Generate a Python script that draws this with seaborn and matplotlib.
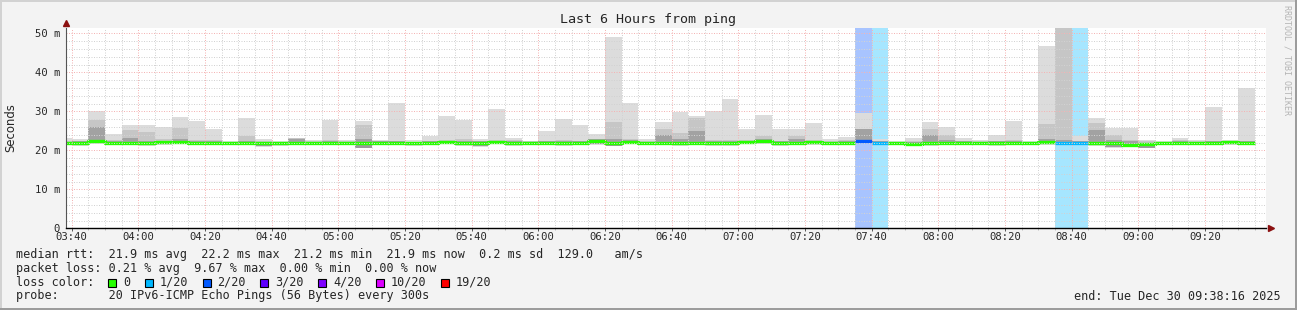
import matplotlib
matplotlib.use("Agg")
import matplotlib.pyplot as plt
import seaborn as sns
from matplotlib.patches import Rectangle
from matplotlib.ticker import FixedLocator, MultipleLocator

# ---------------- data ----------------
first_slot_minute = 215          # 03:35, slot length 5 minutes
slot_len = 5
view_start = 218.267             # 03:38:16
view_end = 578.267               # 09:38:16

rtt_max = [23.1, 22.8, 30.1, 24.2, 26.5, 26.5, 26.1, 28.5, 27.5, 25.5, 22.4, 28.3,
           22.8, 22.4, 23.1, 22.7, 27.8, 22.6, 27.6, 22.6, 32.1, 22.6, 23.8, 28.8,
           27.8, 22.9, 30.6, 23.1, 22.5, 25.0, 28.1, 26.5, 24.2, 49.0, 32.1, 22.8,
           27.3, 29.8, 28.8, 30.1, 33.2, 25.5, 29.1, 25.5, 25.5, 27.0, 22.8, 23.5,
           29.7, 22.8, 22.4, 23.2, 27.3, 26.1, 23.2, 22.6, 23.9, 27.5, 22.4, 46.8,
           55.0, 23.7, 28.3, 25.8, 25.8, 22.6, 22.3, 23.1, 22.6, 31.2, 22.6, 36.1]
rtt_mid = [22.5, 22.3, 27.8, 22.6, 25.2, 24.8, 22.8, 25.8, 22.6, 22.6, 22.2, 23.8,
           22.3, 22.2, 23.1, 22.4, 22.6, 22.4, 26.5, 22.4, 22.4, 22.2, 22.5, 22.6,
           22.9, 22.4, 22.6, 22.6, 22.3, 22.4, 22.6, 22.5, 22.6, 27.4, 22.9, 22.5,
           25.5, 24.4, 28.2, 22.7, 22.6, 22.6, 23.8, 22.4, 23.8, 22.6, 22.4, 22.7,
           25.5, 22.4, 22.2, 22.4, 25.5, 23.9, 22.4, 22.3, 22.5, 22.6, 22.2, 26.8,
           55.0, 22.5, 26.9, 23.9, 22.6, 22.3, 22.2, 22.6, 22.3, 22.5, 22.4, 22.5]
rtt_inner = [22.2, 22.4, 26.0, 22.4, 23.3, 22.3, 22.5, 22.8, 22.4, 22.4, 22.2, 22.3,
             22.2, 22.1, 22.9, 22.2, 22.4, 22.2, 23.0, 22.3, 22.3, 22.1, 22.3, 22.5,
             22.5, 22.3, 22.5, 22.3, 22.2, 22.3, 22.3, 22.3, 22.8, 22.9, 22.7, 22.2,
             23.9, 22.8, 25.0, 22.4, 22.3, 22.5, 22.8, 22.3, 22.9, 22.5, 22.2, 22.4,
             25.5, 22.3, 22.2, 22.2, 23.9, 22.6, 22.4, 22.2, 22.3, 22.4, 22.2, 23.0,
             22.6, 22.3, 25.2, 22.6, 22.3, 22.0, 22.1, 22.3, 22.1, 22.3, 22.5, 22.4]
rtt_min = [21.3, 21.2, 21.6, 21.3, 21.4, 21.1, 21.5, 21.6, 21.3, 21.4, 21.3, 21.3,
           20.9, 21.2, 21.3, 21.3, 21.4, 21.3, 20.5, 21.4, 21.5, 21.2, 21.4, 21.6,
           21.2, 20.9, 21.6, 21.2, 21.4, 21.3, 21.1, 21.3, 21.5, 21.0, 21.6, 21.5,
           21.3, 21.1, 21.3, 21.2, 21.2, 21.6, 21.6, 21.2, 21.3, 21.5, 21.4, 21.3,
           21.8, 21.5, 21.4, 21.0, 21.2, 21.4, 21.3, 21.4, 21.2, 21.3, 21.5, 21.5,
           21.4, 21.5, 21.2, 20.7, 21.0, 20.5, 21.4, 21.4, 21.5, 21.4, 21.5, 21.3]
rtt_median = [21.8, 22.0, 22.4, 22.0, 22.0, 21.8, 22.2, 22.2, 22.0, 22.0, 21.9, 21.9,
              21.8, 21.8, 21.9, 21.9, 22.0, 21.8, 22.0, 22.0, 22.0, 21.8, 22.0, 22.2,
              22.0, 22.0, 22.2, 21.8, 21.9, 22.0, 21.9, 21.9, 22.4, 22.0, 22.2, 21.9,
              22.0, 22.0, 21.9, 21.9, 21.9, 22.2, 22.3, 22.0, 21.9, 22.2, 21.9, 21.9,
              22.4, 22.0, 22.0, 21.6, 22.0, 22.0, 22.0, 22.0, 22.0, 22.0, 22.0, 22.2,
              22.0, 22.0, 21.9, 22.0, 21.4, 21.7, 22.0, 21.9, 21.9, 22.0, 22.2, 22.0]
lost_pings = [0] * 48 + [2, 1] + [0] * 10 + [1, 1] + [0] * 10

x_ticks = [220, 240, 260, 280, 300, 320, 340, 360, 380, 400, 420, 440, 460, 480,
           500, 520, 540, 560]
x_tick_labels = ["03:40", "04:00", "04:20", "04:40", "05:00", "05:20", "05:40", "06:00",
                 "06:20", "06:40", "07:00", "07:20", "07:40", "08:00", "08:20", "08:40",
                 "09:00", "09:20"]
y_ticks = [0, 10, 20, 30, 40, 50]
y_tick_labels = ["0", "10 m", "20 m", "30 m", "40 m", "50 m"]

loss_levels = [0, 1, 2, 3, 4, 10, 19]
loss_labels = ["0", "1/20", "2/20", "3/20", "4/20", "10/20", "19/20"]
loss_line_colors = ["#26ff00", "#00b8ff", "#0059ff", "#5e00ff", "#7e00ff", "#dd00ff", "#ff0000"]
loss_bg_colors = {1: "#a6e6ff", 2: "#a8c4ff"}

title = "Last 6 Hours from ping"
line_rtt = "median rtt:  21.9 ms avg  22.2 ms max  21.2 ms min  21.9 ms now  0.2 ms sd  129.0   am/s"
line_loss = "packet loss: 0.21 % avg  9.67 % max  0.00 % min  0.00 % now"
line_probe = "probe:       20 IPv6-ICMP Echo Pings (56 Bytes) every 300s"
line_end = "end: Tue Dec 30 09:38:16 2025"

# ---------------- style ----------------
sns.set_theme(style="white")
MONO = ["DejaVu Sans Mono"]
plt.rcParams["font.family"] = MONO

W, H = 1297, 310
fig = plt.figure(figsize=(W / 100, H / 100), dpi=100, facecolor="#f3f3f3")
ax = fig.add_axes([66 / W, 1 - 228.3 / H, 1200 / W, 200.3 / H])
ax.set_facecolor("white")

starts = [first_slot_minute + slot_len * i for i in range(len(rtt_max))]

# loss background
for s, n in zip(starts, lost_pings):
    if n > 0:
        ax.axvspan(s, s + slot_len, color=loss_bg_colors[n], lw=0, zorder=0.5)

# smoke layers
ax.bar(starts, [a - b for a, b in zip(rtt_max, rtt_min)], bottom=rtt_min, width=slot_len,
       align="edge", color="#dcdcdc", lw=0, zorder=1)
ax.bar(starts, [a - (m - 0.4) for a, m in zip(rtt_mid, rtt_median)],
       bottom=[m - 0.4 for m in rtt_median], width=slot_len, align="edge",
       color="#c6c6c6", lw=0, zorder=1.1)
ax.bar(starts, [a - (m - 0.3) for a, m in zip(rtt_inner, rtt_median)],
       bottom=[m - 0.3 for m in rtt_median], width=slot_len, align="edge",
       color="#a2a2a2", lw=0, zorder=1.2)
ax.bar(starts, [m - (b + 0.2) for m, b in zip(rtt_median, rtt_min)],
       bottom=[b + 0.2 for b in rtt_min], width=slot_len, align="edge",
       color="#9a9a9a", lw=0, zorder=1.3)

# median line coloured by loss (runs of equal loss)
color_for = dict(zip(loss_levels, loss_line_colors))
i = 0
while i < len(starts):
    j = i
    while j + 1 < len(starts) and lost_pings[j + 1] == lost_pings[i]:
        j += 1
    xs = starts[i:j + 1] + [starts[j] + slot_len]
    ys = rtt_median[i:j + 1] + [rtt_median[j]]
    sns.lineplot(x=xs, y=ys, ax=ax, color=color_for[lost_pings[i]], linewidth=2.4,
                 drawstyle="steps-post", estimator=None, sort=False, legend=False,
                 zorder=2, solid_capstyle="butt")
    i = j + 1

ax.set_xlim(view_start, view_end)
ax.set_ylim(0, 51.4)

# grid
ax.xaxis.set_major_locator(FixedLocator(x_ticks))
ax.xaxis.set_minor_locator(MultipleLocator(5))
ax.yaxis.set_major_locator(FixedLocator(y_ticks))
ax.yaxis.set_minor_locator(MultipleLocator(2))
ax.set_xticklabels(x_tick_labels)
ax.set_yticklabels(y_tick_labels)
ax.set_axisbelow(False)
ax.grid(which="major", color="#f4b4b4", linestyle=(0, (1, 1.5)), linewidth=0.72, zorder=3)
ax.grid(which="minor", color="#d2d2d2", linestyle=(0, (1, 1.5)), linewidth=0.72, zorder=3)
ax.set_xlabel("")
ax.set_ylabel("")

ax.tick_params(axis="x", which="major", length=2, width=0.7, color="#555", pad=1.0,
               labelsize=7.6, bottom=True)
ax.tick_params(axis="x", which="minor", length=1.5, width=0.7, color="#bbb", bottom=True)
ax.tick_params(axis="y", which="both", length=0, pad=4.3, labelsize=7.6)

for side in ("top", "right"):
    ax.spines[side].set_visible(False)
ax.spines["left"].set_color("#555555")
ax.spines["left"].set_linewidth(0.8)
ax.spines["bottom"].set_color("#000000")
ax.spines["bottom"].set_linewidth(1.0)
ax.spines["left"].set_zorder(4)
ax.spines["bottom"].set_zorder(4)

# axis arrows
ax.plot([0], [1.024], marker="^", ms=4, color="#8b1010", transform=ax.transAxes,
        clip_on=False, zorder=5)
ax.plot([1.004], [0], marker=">", ms=4, color="#8b1010", transform=ax.transAxes,
        clip_on=False, zorder=5)


def fx(x):
    return x / W


def fy(y):
    return 1 - y / H


# texts
fig.text(fx(648), fy(20), title, ha="center", va="center", fontsize=9.6, family=MONO)
fig.text(fx(11), fy(128), "Seconds", rotation=90, ha="center", va="center",
         fontsize=8.4, family=["DejaVu Sans"])
fig.text(fx(1287), fy(60), "RRDTOOL / TOBI OETIKER", rotation=270, ha="center",
         va="center", fontsize=6, color="#b4b4b4", family=MONO)

fig.text(fx(16), fy(254.3), line_rtt, ha="left", va="center", fontsize=8.5, family=MONO)
fig.text(fx(16), fy(268.3), line_loss, ha="left", va="center", fontsize=8.5, family=MONO)
fig.text(fx(16), fy(282.3), "loss color:", ha="left", va="center", fontsize=8.5, family=MONO)
fig.text(fx(16), fy(296), line_probe, ha="left", va="center", fontsize=8.5, family=MONO)
fig.text(fx(1281), fy(296), line_end, ha="right", va="center", fontsize=8.5, family=MONO)

char_w = 7.09
pos = 108.3
for lab, col in zip(loss_labels, loss_line_colors):
    fig.add_artist(Rectangle((fx(pos), fy(286.5)), 8 / W, 8 / H, transform=fig.transFigure,
                             facecolor=col, edgecolor="black", lw=0.8))
    fig.text(fx(pos + 15), fy(282.3), lab, ha="left", va="center", fontsize=8.5, family=MONO)
    pos += (len(lab) + 4.15) * char_w

# 3D frame of the image
fig.add_artist(Rectangle((0, fy(2)), 1, 2 / H, transform=fig.transFigure,
                         facecolor="#d2d2d2", lw=0))
fig.add_artist(Rectangle((0, 0), 2 / W, 1, transform=fig.transFigure,
                         facecolor="#d2d2d2", lw=0))
fig.add_artist(Rectangle((0, 0), 1, 2 / H, transform=fig.transFigure,
                         facecolor="#9c9c9c", lw=0))
fig.add_artist(Rectangle((fx(1295), 0), 2 / W, 1, transform=fig.transFigure,
                         facecolor="#9c9c9c", lw=0))

fig.savefig("out.png", dpi=100, facecolor=fig.get_facecolor())
